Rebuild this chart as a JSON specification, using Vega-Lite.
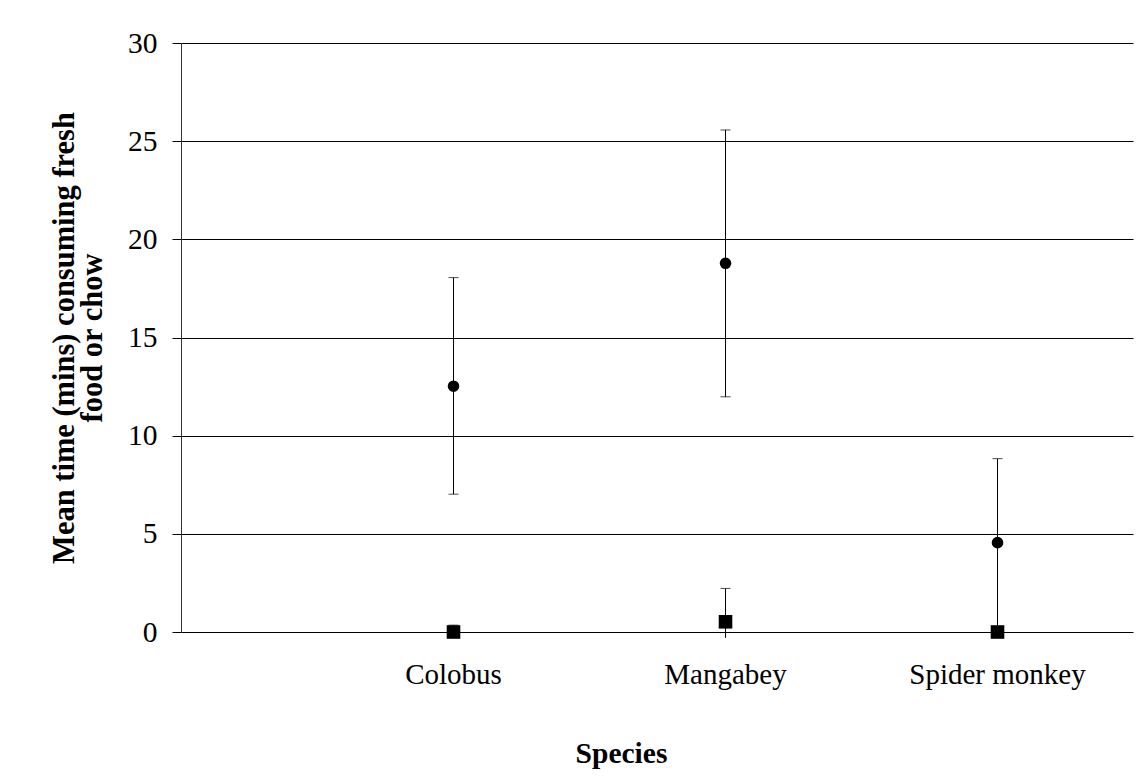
{
  "$schema": "https://vega.github.io/schema/vega-lite/v6.json",
  "width": 952,
  "height": 589,
  "autosize": {"type": "none"},
  "padding": {"left": 181, "top": 43, "right": 5, "bottom": 146},
  "background": "white",
  "config": {
    "view": {"stroke": null},
    "font": "Liberation Serif",
    "axisY": {
      "grid": true,
      "gridColor": "black",
      "gridOpacity": 1,
      "gridWidth": 1,
      "domain": true,
      "domainColor": "#333333",
      "domainWidth": 1,
      "ticks": true,
      "tickColor": "black",
      "tickSize": 9,
      "tickWidth": 1,
      "labelFont": "Liberation Serif",
      "labelFontSize": 29.5,
      "labelColor": "black",
      "labelPadding": 15,
      "labelBaseline": "middle",
      "titleFont": "Liberation Serif",
      "titleFontSize": 30.5,
      "titleFontWeight": "bold",
      "titleColor": "black",
      "titleAngle": 270,
      "titleX": -108,
      "titleY": 294.5,
      "titleAlign": "center",
      "titleBaseline": "alphabetic",
      "titleLineHeight": 28
    }
  },
  "data": {
    "values": [
      {"species": "Colobus", "series": "Fresh food", "mean": 12.52, "lo": 7.02, "hi": 18.05, "lo_cap": 7.02},
      {"species": "Mangabey", "series": "Fresh food", "mean": 18.78, "lo": 11.98, "hi": 25.57, "lo_cap": 11.98},
      {"species": "Spider monkey", "series": "Fresh food", "mean": 4.55, "lo": 0.27, "hi": 8.83, "lo_cap": 0.27},
      {"species": "Colobus", "series": "Chow", "mean": 0, "lo": 0, "hi": 0.35, "lo_cap": null},
      {"species": "Mangabey", "series": "Chow", "mean": 0.52, "lo": -0.3, "hi": 2.22, "lo_cap": null},
      {"species": "Spider monkey", "series": "Chow", "mean": 0, "lo": 0, "hi": null, "lo_cap": null}
    ]
  },
  "encoding": {
    "x": {
      "field": "species",
      "type": "nominal",
      "sort": null,
      "scale": {"type": "point", "domain": ["Colobus", "Mangabey", "Spider monkey"], "padding": 0.75, "align": 0.6667},
      "axis": {
        "orient": "bottom",
        "ticks": false,
        "domain": false,
        "grid": false,
        "labelAngle": 0,
        "labelFont": "Liberation Serif",
        "labelFontSize": 29,
        "labelColor": "black",
        "labelBaseline": "alphabetic",
        "labelPadding": 51,
        "title": "Species",
        "titleFont": "Liberation Serif",
        "titleFontSize": 29.5,
        "titleFontWeight": "bold",
        "titleColor": "black",
        "titleX": 440,
        "titleY": 130,
        "titleAlign": "center",
        "titleBaseline": "alphabetic"
      }
    }
  },
  "layer": [
    {
      "mark": {"type": "rule", "color": "black", "strokeWidth": 1, "xOffset": 0.5},
      "encoding": {
        "y": {
          "field": "lo",
          "type": "quantitative",
          "scale": {"domain": [0, 30], "nice": false, "zero": true},
          "axis": {"values": [0, 5, 10, 15, 20, 25, 30]},
          "title": ["Mean time (mins) consuming fresh", "food or chow"]
        },
        "y2": {"field": "hi"}
      }
    },
    {
      "mark": {"type": "tick", "color": "black", "size": 10, "thickness": 1, "orient": "horizontal", "xOffset": 0.5},
      "encoding": {"y": {"field": "hi", "type": "quantitative", "title": ["Mean time (mins) consuming fresh", "food or chow"]}}
    },
    {
      "mark": {"type": "tick", "color": "black", "size": 10, "thickness": 1, "orient": "horizontal", "xOffset": 0.5},
      "encoding": {"y": {"field": "lo_cap", "type": "quantitative", "title": ["Mean time (mins) consuming fresh", "food or chow"]}}
    },
    {
      "mark": {"type": "point", "filled": true, "opacity": 1, "color": "black", "strokeWidth": 0, "xOffset": 0.5},
      "encoding": {
        "y": {"field": "mean", "type": "quantitative", "title": ["Mean time (mins) consuming fresh", "food or chow"]},
        "shape": {"field": "series", "type": "nominal", "scale": {"domain": ["Fresh food", "Chow"], "range": ["circle", "square"]}, "legend": null},
        "size": {"field": "series", "type": "nominal", "scale": {"domain": ["Fresh food", "Chow"], "range": [135, 185]}, "legend": null}
      }
    }
  ]
}
